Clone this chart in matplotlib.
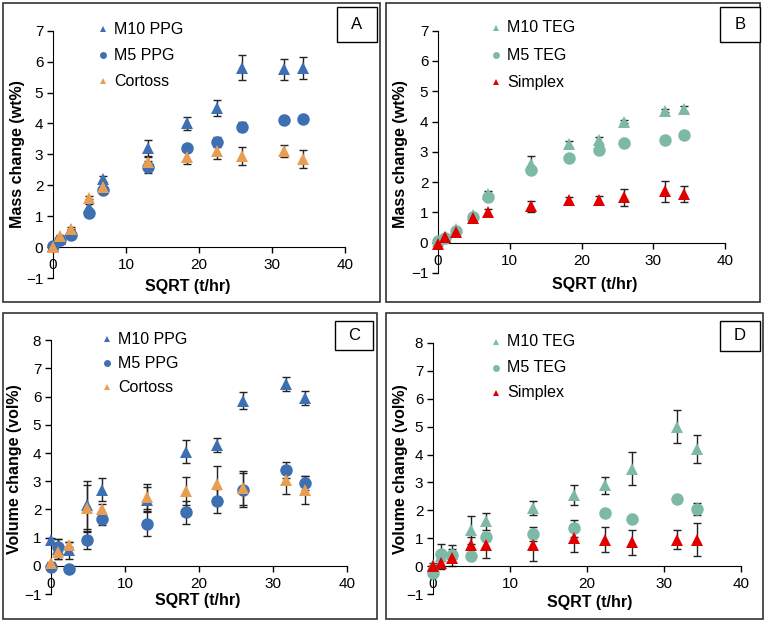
import matplotlib
matplotlib.use("Agg")
import matplotlib.pyplot as plt
from matplotlib.patches import Rectangle
from matplotlib.lines import Line2D

plt.rcParams['font.family'] = ['Liberation Sans', 'DejaVu Sans']

W, H = 766, 622

# ---------------- data ----------------
sqrt_t = [0, 1.0, 2.45, 4.9, 6.9, 13.0, 18.3, 22.4, 25.9, 31.7, 34.3]

# Panel A : mass change PPG
a_m10 = [0.05, 0.25, 0.55, 1.3, 2.2, 3.2, 4.0, 4.5, 5.8, 5.75, 5.8]
a_m10_err = [0.02, 0.05, 0.05, 0.1, 0.1, 0.25, 0.2, 0.25, 0.4, 0.35, 0.35]
a_m5 = [0.05, 0.22, 0.4, 1.1, 1.85, 2.6, 3.2, 3.4, 3.9, 4.1, 4.15]
a_m5_err = [0.02, 0.05, 0.05, 0.05, 0.1, 0.2, 0.05, 0.15, 0.15, 0.1, 0.05]
a_cor = [0.0, 0.35, 0.6, 1.6, 1.95, 2.75, 2.9, 3.1, 2.95, 3.1, 2.85]
a_cor_err = [0.02, 0.05, 0.05, 0.05, 0.1, 0.15, 0.2, 0.25, 0.3, 0.2, 0.3]

# Panel B : mass change TEG
b_m10 = [0.05, 0.2, 0.45, 0.9, 1.6, 2.6, 3.25, 3.4, 4.0, 4.35, 4.4]
b_m10_err = [0.02, 0.05, 0.05, 0.05, 0.1, 0.25, 0.1, 0.1, 0.05, 0.05, 0.1]
b_m5 = [0.05, 0.15, 0.4, 0.85, 1.5, 2.4, 2.8, 3.05, 3.3, 3.4, 3.55]
b_m5_err = [0.02, 0.03, 0.05, 0.05, 0.05, 0.1, 0.1, 0.05, 0.05, 0.05, 0.05]
b_simp = [-0.05, 0.2, 0.35, 0.8, 1.0, 1.2, 1.4, 1.4, 1.5, 1.7, 1.6]
b_simp_err = [0.02, 0.05, 0.05, 0.05, 0.12, 0.18, 0.12, 0.13, 0.28, 0.35, 0.27]

# Panel C : volume change PPG
c_m10 = [0.9, 0.6, 0.55, 2.15, 2.7, 2.35, 4.05, 4.3, 5.85, 6.45, 5.95]
c_m10_err = [0.1, 0.35, 0.3, 0.85, 0.4, 0.45, 0.42, 0.25, 0.3, 0.25, 0.25]
c_m5 = [-0.05, 0.65, -0.1, 0.9, 1.65, 1.5, 1.9, 2.3, 2.7, 3.4, 2.95]
c_m5_err = [0.05, 0.3, 0.05, 0.3, 0.2, 0.45, 0.4, 0.42, 0.6, 0.3, 0.25]
c_cor = [0.1, 0.5, 0.75, 2.05, 2.0, 2.45, 2.65, 2.9, 2.75, 3.05, 2.7]
c_cor_err = [0.05, 0.25, 0.1, 0.8, 0.2, 0.45, 0.5, 0.65, 0.6, 0.5, 0.5]

# Panel D : volume change TEG
d_m10 = [0.05, 0.35, 0.45, 1.3, 1.6, 2.1, 2.55, 2.9, 3.5, 5.0, 4.2]
d_m10_err = [0.05, 0.45, 0.3, 0.5, 0.3, 0.25, 0.35, 0.3, 0.6, 0.6, 0.5]
d_m5 = [-0.25, 0.45, 0.4, 0.35, 1.05, 1.15, 1.35, 1.9, 1.7, 2.4, 2.05]
d_m5_err = [0.05, 0.1, 0.1, 0.05, 0.15, 0.25, 0.3, 0.1, 0.1, 0.1, 0.2]
d_simp = [0.0, 0.1, 0.3, 0.75, 0.75, 0.75, 1.0, 0.95, 0.85, 0.95, 0.95]
d_simp_err = [0.05, 0.1, 0.3, 0.3, 0.45, 0.55, 0.5, 0.45, 0.45, 0.35, 0.6]

BLUE = "#3D6FB3"
ORANGE = "#E99D52"
TEAL = "#7DB9A6"
RED = "#E00000"

fig = plt.figure(figsize=(W / 100, H / 100), dpi=100)


def fx(x):
    return x / W


def fy(y):
    return 1 - y / H


def add_axes(x0, x40, ytop, ybot):
    return fig.add_axes([fx(x0), fy(ybot), fx(x40) - fx(x0), fy(ytop) - fy(ybot)])


panels = [
    dict(box=(3, 3, 380, 302), ax=(53, 345, 30.7, 278), ymax=7, ylabel="Mass change (wt%)",
         ylab=(18, 154), xlab=(188, 286), letter="A", lbox=(337, 7, 377, 42),
         leg=(103, 29, 26),
         series=[("M10 PPG", a_m10, a_m10_err, "^", BLUE, 8.5),
                 ("M5 PPG", a_m5, a_m5_err, "o", BLUE, 9.0),
                 ("Cortoss", a_cor, a_cor_err, "^", ORANGE, 8.5)]),
    dict(box=(386, 3, 760, 302), ax=(438, 725, 30.7, 273), ymax=7, ylabel="Mass change (wt%)",
         ylab=(401, 154), xlab=(595, 284), letter="B", lbox=(720, 7, 760, 42),
         leg=(496, 28, 27),
         series=[("M10 TEG", b_m10, b_m10_err, "^", TEAL, 8.0),
                 ("M5 TEG", b_m5, b_m5_err, "o", TEAL, 9.0),
                 ("Simplex", b_simp, b_simp_err, "^", RED, 8.5)]),
    dict(box=(3, 313, 377, 619), ax=(51, 347, 340.3, 594), ymax=8, ylabel="Volume change (vol%)",
         ylab=(15, 469), xlab=(198, 600), letter="C", lbox=(335, 321, 373, 350),
         leg=(107, 339, 24),
         series=[("M10 PPG", c_m10, c_m10_err, "^", BLUE, 8.5),
                 ("M5 PPG", c_m5, c_m5_err, "o", BLUE, 9.0),
                 ("Cortoss", c_cor, c_cor_err, "^", ORANGE, 8.5)]),
    dict(box=(386, 313, 763, 619), ax=(433, 741, 343, 594), ymax=8, ylabel="Volume change (vol%)",
         ylab=(400, 469), xlab=(590, 602), letter="D", lbox=(720, 321, 760, 351),
         leg=(496, 342, 25.5),
         series=[("M10 TEG", d_m10, d_m10_err, "^", TEAL, 8.0),
                 ("M5 TEG", d_m5, d_m5_err, "o", TEAL, 9.0),
                 ("Simplex", d_simp, d_simp_err, "^", RED, 8.5)]),
]

for p in panels:
    bx0, by0, bx1, by1 = p["box"]
    fig.patches.append(Rectangle((fx(bx0), fy(by1)), fx(bx1) - fx(bx0), fy(by0) - fy(by1),
                                 transform=fig.transFigure, fill=False, edgecolor="#333333",
                                 linewidth=1.2, zorder=0))
    x0, x40, ytop, ybot = p["ax"]
    ax = add_axes(x0, x40, ytop, ybot)
    ax.set_xlim(0, 40)
    ax.set_ylim(-1, p["ymax"])
    ax.patch.set_alpha(0)
    for s in ["top", "right"]:
        ax.spines[s].set_visible(False)
    ax.spines["bottom"].set_position(("data", 0))
    ax.spines["bottom"].set_color("black")
    ax.spines["left"].set_color("black")
    ax.set_xticks([0, 10, 20, 30, 40])
    ax.set_yticks(list(range(-1, p["ymax"] + 1)))
    ax.tick_params(axis="both", direction="out", length=4, width=1, labelsize=11, colors="black")
    ax.tick_params(axis="x", pad=4)
    ax.tick_params(axis="y", pad=3)

    for name, ys, errs, mk, col, ms in p["series"]:
        ax.errorbar(sqrt_t, ys, yerr=errs, fmt="none", ecolor="#222222", elinewidth=1,
                    capsize=3, capthick=1, zorder=2, clip_on=False)
        ax.plot(sqrt_t, ys, linestyle="none", marker=mk, color=col, markersize=ms,
                markeredgewidth=0, zorder=3, clip_on=False)

    # legend drawn manually
    lx, ly, dy = p["leg"]
    for i, (name, ys, errs, mk, col, ms) in enumerate(p["series"]):
        yy = ly + i * dy
        fig.add_artist(Line2D([fx(lx)], [fy(yy)], marker=mk, color=col, markersize=5 if mk == "o" else 4.5,
                              markeredgewidth=0, linestyle="none", transform=fig.transFigure))
        fig.text(fx(lx + 11), fy(yy), name, fontsize=11.5, ha="left", va="center")

    fig.text(fx(p["ylab"][0]), fy(p["ylab"][1]), p["ylabel"], rotation=90, ha="center", va="center",
             fontsize=11.5, fontweight="bold")
    fig.text(fx(p["xlab"][0]), fy(p["xlab"][1]), "SQRT (t/hr)", ha="center", va="center",
             fontsize=11.5, fontweight="bold")

    lx0, ly0, lx1, ly1 = p["lbox"]
    fig.patches.append(Rectangle((fx(lx0), fy(ly1)), fx(lx1) - fx(lx0), fy(ly0) - fy(ly1),
                                 transform=fig.transFigure, fill=True, facecolor="white",
                                 edgecolor="black", linewidth=1.0, zorder=1))
    fig.text(fx((lx0 + lx1) / 2), fy((ly0 + ly1) / 2), p["letter"], ha="center", va="center",
             fontsize=12)

fig.savefig("out.png", dpi=100)
